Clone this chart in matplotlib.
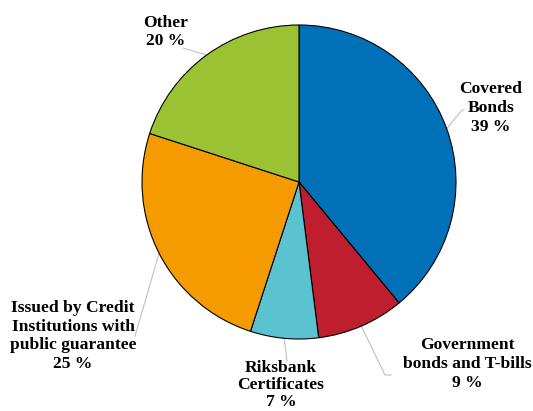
import numpy as np
import matplotlib
matplotlib.use("Agg")
import matplotlib.pyplot as plt

categories = ["Covered\nBonds", "Government\nbonds and T-bills", "Riksbank\nCertificates",
              "Issued by Credit\nInstitutions with\npublic guarantee", "Other"]
values = [39, 9, 7, 25, 20]
colors = ["#0070b8", "#be1e2d", "#5bc2d0", "#f59b00", "#9bc232"]

W, H = 533, 411
fig = plt.figure(figsize=(W / 100, H / 100), dpi=100)
ax = fig.add_axes([0, 0, 1, 1])

cx, cy, r = 299, H - 182, 157
wedges, _ = ax.pie(values, colors=colors, startangle=90, counterclock=False,
                   center=(cx, cy), radius=r, frame=True,
                   wedgeprops=dict(edgecolor="black", linewidth=0.8))
ax.set_xlim(0, W)
ax.set_ylim(0, H)
ax.set_aspect("equal")
ax.axis("off")

# label block centres (pixel coords, y from top), line spacing and leader end points
label_pos = [(491, 108), (467, 364), (281, 385), (73, 336), (166, 32)]
spacing = [1.22, 1.22, 1.12, 1.22, 1.22]
leader_ends = [[(462, 110), (464, 110)],
               [(385, 375), (391, 375)],
               [(287, 361)],
               [(135, 336)],
               [(183, 48)]]

for w, v, lab, (lx, ly), ls, ends in zip(wedges, values, categories, label_pos, spacing, leader_ends):
    ang = np.deg2rad((w.theta1 + w.theta2) / 2)
    sx, sy = cx + r * np.cos(ang), cy + r * np.sin(ang)
    xs = [sx] + [e[0] for e in ends]
    ys = [sy] + [H - e[1] for e in ends]
    ax.plot(xs, ys, color="#c0c0c0", lw=0.8, zorder=0.5)
    ax.text(lx, H - ly, f"{lab}\n{v} %", ha="center", va="center",
            family="Liberation Serif", fontweight="bold", fontsize=12.6,
            linespacing=ls, color="black")

fig.savefig("out.png", dpi=100)
